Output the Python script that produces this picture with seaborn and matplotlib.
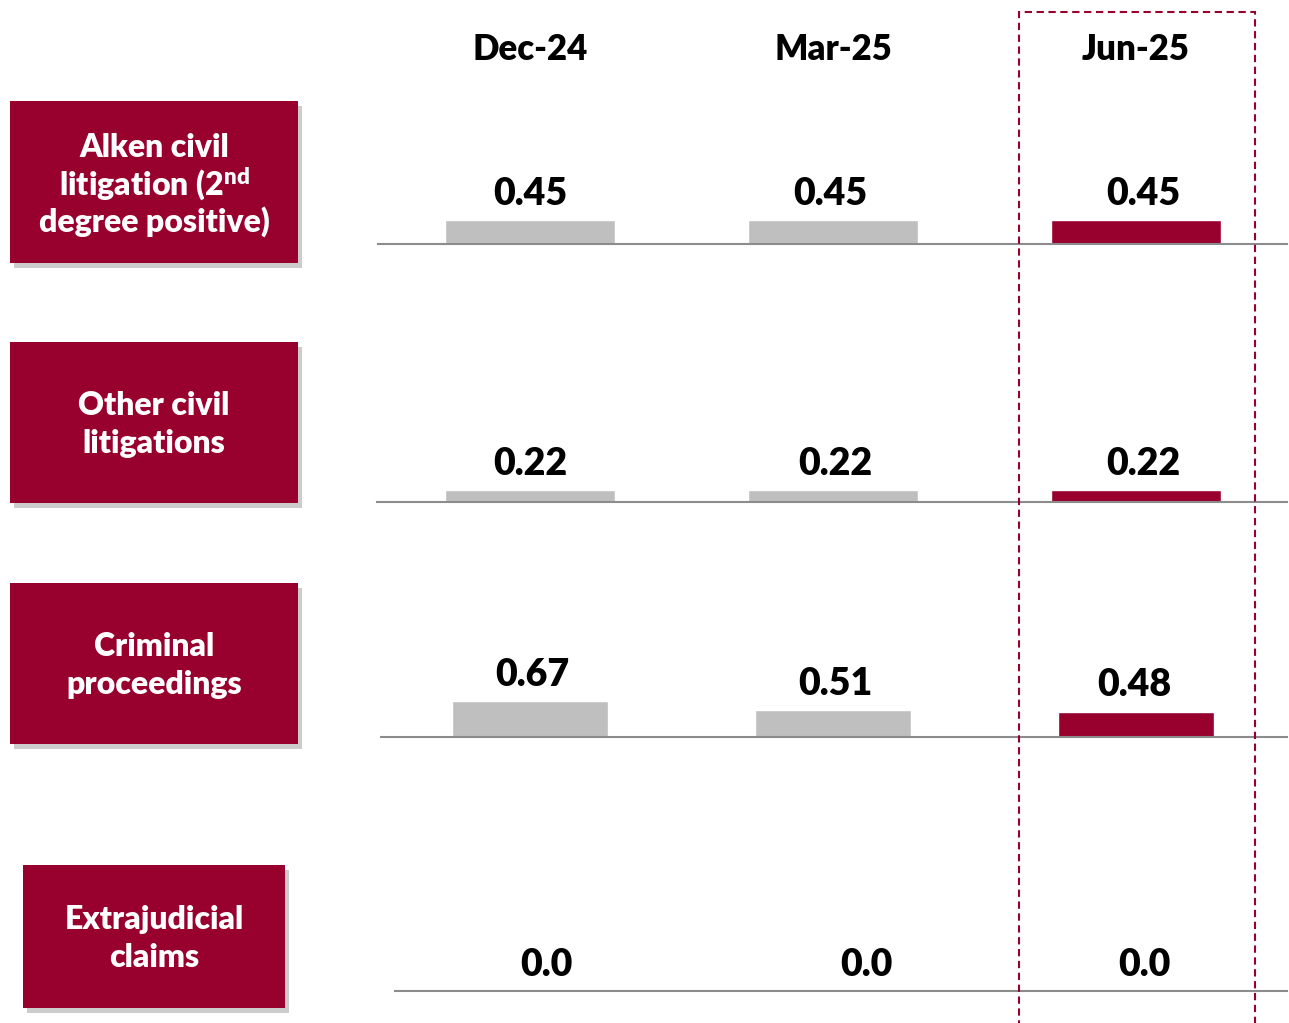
import matplotlib
matplotlib.use("Agg")
import matplotlib.pyplot as plt
import matplotlib.transforms as mtransforms
from matplotlib.patches import Rectangle
import seaborn as sns
import pandas as pd

# Data
periods = ["Dec-24", "Mar-25", "Jun-25"]
categories = [
    "Alken civil\nlitigation (2$\\mathregular{^{nd}}$\ndegree positive)",
    "Other civil\nlitigations",
    "Criminal\nproceedings",
    "Extrajudicial\nclaims",
]
alken_civil = [0.45, 0.45, 0.45]
other_civil = [0.22, 0.22, 0.22]
criminal = [0.67, 0.51, 0.48]
extrajudicial = [0.0, 0.0, 0.0]
value_labels = [
    ["0.45", "0.45", "0.45"],
    ["0.22", "0.22", "0.22"],
    ["0.67", "0.51", "0.48"],
    ["0.0", "0.0", "0.0"],
]

rows = [alken_civil, other_civil, criminal, extrajudicial]
df = pd.DataFrame({
    "category": [c for c in categories for _ in periods],
    "period": periods * len(categories),
    "value": [v for r in rows for v in r],
})

RED = "#98002E"
GREY = "#BFBFBF"
LINE = "#8C8C8C"

sns.set_style("white")
plt.rcParams["font.family"] = ["Lato", "DejaVu Sans"]

W, H = 1289, 1023
fig = plt.figure(figsize=(W / 100, H / 100), dpi=100)

# layout (pixels)
baselines = [244, 502, 737, 991]
line_left = [378, 377, 381, 395]
bar_widths = [0.56, 0.56, 0.515, 0.56]
label_dx = [[0, -3, 7], [0, 2, 7], [2, 2, -2], [16, 33, 8]]
boxes = [(10, 101, 288, 162), (10, 342, 288, 161), (10, 583, 288, 161), (23, 865, 262, 143)]
box_spacing = [1.1, 1.38, 1.38, 1.38]
box_dy = [3, 2, 2, 2]
first_center, step = 530, 303
px_per_unit = 53
ax_h = 130

axes = []
for i, cat in enumerate(categories):
    left = line_left[i]
    ax = fig.add_axes([left / W, 1 - baselines[i] / H, (1287 - left) / W, ax_h / H])
    sub = df[df["category"] == cat]
    sns.barplot(data=sub, x="period", y="value", hue="period", order=periods,
                palette=[GREY, GREY, RED], width=bar_widths[i], legend=False, ax=ax,
                saturation=1)
    ax.set_xlim((left - first_center) / step, (1287 - first_center) / step)
    ax.set_ylim(0, ax_h / px_per_unit)
    ax.set_xticks([])
    ax.set_yticks([])
    ax.set_xlabel("")
    ax.set_ylabel("")
    for s in ["top", "left", "right"]:
        ax.spines[s].set_visible(False)
    ax.spines["bottom"].set_color(LINE)
    ax.spines["bottom"].set_linewidth(1.5)
    ax.patch.set_alpha(0)
    for j, v in enumerate(sub["value"]):
        ax.annotate(value_labels[i][j], (j, v), xytext=(label_dx[i][j] * 0.72, 19),
                    textcoords="offset points", ha="center", va="center", fontsize=27,
                    fontweight="heavy", color="black", annotation_clip=False)
    axes.append(ax)

    # label box with shadow
    bx, by, bw, bh = boxes[i]
    fig.add_artist(Rectangle(((bx + 4) / W, 1 - (by + bh + 5) / H), bw / W, bh / H,
                             transform=fig.transFigure, color="#000000", alpha=0.2, lw=0))
    fig.add_artist(Rectangle((bx / W, 1 - (by + bh) / H), bw / W, bh / H,
                             transform=fig.transFigure, color=RED, lw=0))
    fig.text((bx + bw / 2) / W, 1 - (by + bh / 2 + box_dy[i]) / H, cat, ha="center",
             va="center", color="white", fontsize=23, fontweight="heavy",
             linespacing=box_spacing[i])

# column headers
top = axes[0]
for j, p in enumerate(periods):
    top.annotate(p, (j, 1 - 50 / H), xycoords=("data", "figure fraction"),
                 ha="center", va="center", fontsize=25, fontweight="heavy", color="black",
                 annotation_clip=False)

# dashed highlight around latest period
trans = mtransforms.blended_transform_factory(top.transData, fig.transFigure)
fig.add_artist(Rectangle((1.614, -0.02), 0.779, 1 - 12 / H + 0.02, transform=trans,
                         fill=False, edgecolor=RED, lw=1.5, ls=(0, (3.5, 2.2))))

fig.savefig("out.png", dpi=100)
